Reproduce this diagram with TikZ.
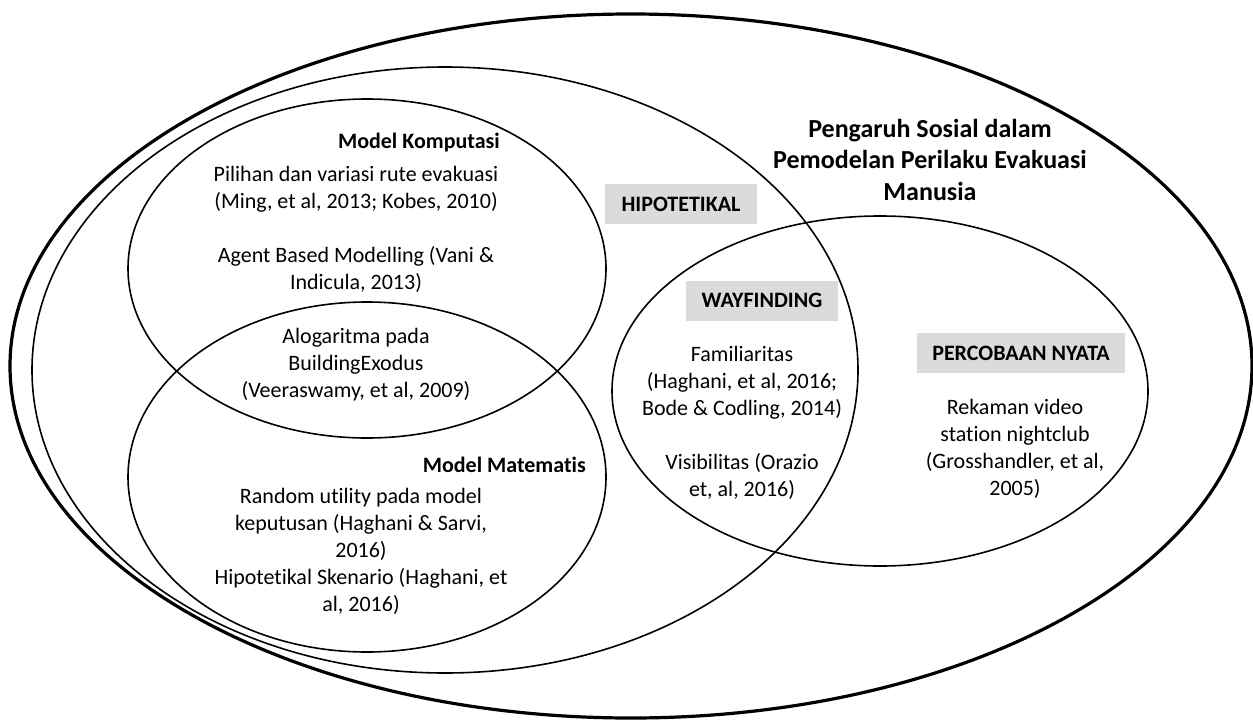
\documentclass[tikz,border=0pt]{standalone}
\usepackage{fontspec}
\setmainfont{Carlito}[Ligatures=NoCommon]
\begin{document}
\begin{tikzpicture}[x=1pt,y=-1pt,
  venn/.style={draw=black,line width=1.6pt},
  outerring/.style={draw=black,line width=3.2pt},
  boxlabel/.style={fill=black!14,inner sep=0pt,minimum height=40pt,font=\fontsize{22}{27}\selectfont\bfseries},
  bodytext/.style={align=center,inner sep=0pt,font=\fontsize{22}{27}\selectfont},
  headtext/.style={inner sep=0pt,font=\fontsize{22}{27}\selectfont\bfseries},
  titletext/.style={align=center,inner sep=0pt,font=\fontsize{26}{31.5}\selectfont\bfseries}]
\useasboundingbox (0,0) rectangle (1253,720);
\fill[white] (0,0) rectangle (1253,720);

% gray label boxes
\node[boxlabel,minimum width=152pt] (hip) at (681,204) {HIPOTETIKAL};
\node[boxlabel,minimum width=152pt] (way) at (762,300.5) {WAYFINDING};
\node[boxlabel,minimum width=208pt] (per) at (1021,353) {PERCOBAAN NYATA};

% ellipses
\draw[outerring] (631,366) ellipse [x radius=621, y radius=352];
\draw[venn] (445,370) ellipse [x radius=413, y radius=303];
\draw[venn] (367,268.5) ellipse [x radius=239, y radius=169.5];
\draw[venn] (367,477) ellipse [x radius=239, y radius=175];
\draw[venn] (880,391) ellipse [x radius=268, y radius=175];

% title
\node[titletext] (title) at (930,159.5) {Pengaruh Sosial dalam\\Pemodelan Perilaku Evakuasi\\Manusia};

% Model Komputasi
\node[headtext,anchor=east] (mk) at (500,143) {Model Komputasi};
\node[bodytext] (mktext) at (356,284) {Pilihan dan variasi rute evakuasi\\(Ming, et al, 2013; Kobes, 2010)\\[27pt]Agent Based Modelling (Vani \&\\Indicula, 2013)\\[27pt]Alogaritma pada\\BuildingExodus\\(Veeraswamy, et al, 2009)};

% Model Matematis
\node[headtext,anchor=east] (mm) at (586,465) {Model Matematis};
\node[bodytext] (mmtext) at (361,551) {Random utility pada model\\keputusan (Haghani \& Sarvi,\\2016)\\Hipotetikal Skenario (Haghani, et\\al, 2016)};

% Wayfinding
\node[bodytext] (waytext) at (742,422.5) {Familiaritas\\(Haghani, et al, 2016;\\Bode \& Codling, 2014)\\[27pt]Visibilitas (Orazio\\et, al, 2016)};

% Percobaan nyata
\node[bodytext] (pertext) at (1015,448.5) {Rekaman video\\station nightclub\\(Grosshandler, et al,\\2005)};
\end{tikzpicture}
\end{document}
